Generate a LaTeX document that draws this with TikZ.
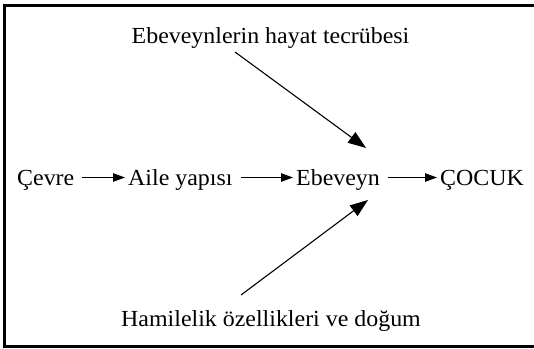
\documentclass[tikz,border=0pt]{standalone}
\usepackage{fontspec}
\setmainfont{Liberation Serif}[FakeStretch=1.04]
\usetikzlibrary{arrows.meta}
\begin{document}
\begin{tikzpicture}[x=1pt,y=-1pt,
    metin/.style={font=\fontsize{23}{27}\selectfont,inner sep=0pt},
    yatayok/.style={line width=0.8pt,-{Triangle[length=12pt,width=8.5pt]}},
    caprazok/.style={line width=1.1pt,-{Triangle[length=18pt,width=13pt]}}]
            \useasboundingbox (0,0) rectangle (534,348);
            \draw[line width=3pt] (545,5.5) -- (4.5,5.5) -- (4.5,346) -- (545,346);
            \node (tecrube) at (270.5,43) [metin,anchor=base] {Ebeveynlerin hayat tecrübesi};
            \node (cevre) at (17,185) [metin,anchor=base west] {Çevre};
            \node (aile) at (128,185) [metin,anchor=base west] {Aile yapısı};
            \node (ebeveyn) at (296,185) [metin,anchor=base west] {Ebeveyn};
            \node (cocuk) at (440,185) [metin,anchor=base west] {ÇOCUK};
            \node (hamile) at (271,326) [metin,anchor=base] {Hamilelik özellikleri ve doğum};
            \coordinate (ustbas) at (235,52);
            \coordinate (ustuc) at (366,148);
            \coordinate (altbas) at (241,295);
            \coordinate (altuc) at (368,200);
            \draw[yatayok] ([xshift=7pt,yshift=7.5pt]cevre.base east) -- ([xshift=-3pt,yshift=7.5pt]aile.base west);
            \draw[yatayok] ([xshift=8pt,yshift=7.5pt]aile.base east) -- ([xshift=-3pt,yshift=7.5pt]ebeveyn.base west);
            \draw[yatayok] ([xshift=8pt,yshift=7.5pt]ebeveyn.base east) -- ([xshift=-3pt,yshift=7.5pt]cocuk.base west);
            \draw[caprazok] (ustbas) -- (ustuc);
            \draw[caprazok] (altbas) -- (altuc);
        \end{tikzpicture}
\end{document}
